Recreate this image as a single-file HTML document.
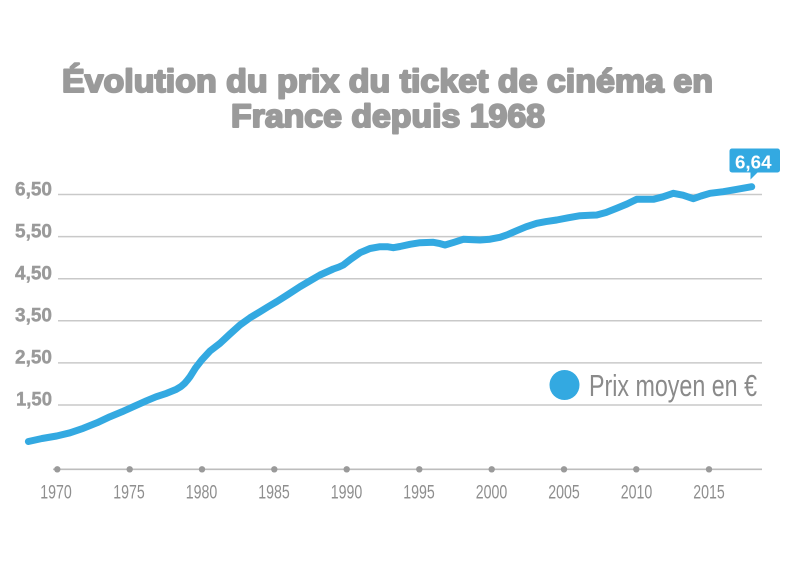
<!DOCTYPE html>
<html>
<head>
<meta charset="utf-8">
<style>
  html, body { margin: 0; padding: 0; background: #ffffff; }
  svg { display: block; }
</style>
</head>
<body>
<svg width="800" height="576" viewBox="0 0 800 576" xmlns="http://www.w3.org/2000/svg">
  <rect x="0" y="0" width="800" height="576" fill="#ffffff"/>

  <!-- Title -->
  <g font-family="'Liberation Sans', sans-serif" font-weight="bold" font-size="32" fill="#9a9a9a" stroke="#9a9a9a" stroke-width="2" stroke-linejoin="round">
    <text x="62" y="92" textLength="651" lengthAdjust="spacingAndGlyphs">Évolution du prix du ticket de cinéma en</text>
    <text x="231" y="127" textLength="314" lengthAdjust="spacingAndGlyphs">France depuis 1968</text>
  </g>

  <!-- Gridlines -->
  <g stroke="#c9c9c9" stroke-width="1.5">
    <line x1="58" y1="194.5" x2="762" y2="194.5"/>
    <line x1="58" y1="236.6" x2="762" y2="236.6"/>
    <line x1="58" y1="278.7" x2="762" y2="278.7"/>
    <line x1="58" y1="320.8" x2="762" y2="320.8"/>
    <line x1="58" y1="362.9" x2="762" y2="362.9"/>
    <line x1="58" y1="405" x2="762" y2="405"/>
  </g>

  <!-- Y labels -->
  <g font-family="'Liberation Sans', sans-serif" font-weight="bold" font-size="19" fill="#9a9a9a" stroke="#9a9a9a" stroke-width="0.4" text-anchor="end">
    <text x="52" y="195.5" textLength="37" lengthAdjust="spacingAndGlyphs">6,50</text>
    <text x="52" y="237.5" textLength="37" lengthAdjust="spacingAndGlyphs">5,50</text>
    <text x="52" y="279.5" textLength="37" lengthAdjust="spacingAndGlyphs">4,50</text>
    <text x="52" y="321.5" textLength="37" lengthAdjust="spacingAndGlyphs">3,50</text>
    <text x="52" y="363.5" textLength="37" lengthAdjust="spacingAndGlyphs">2,50</text>
    <text x="52" y="405.5" textLength="36" lengthAdjust="spacingAndGlyphs">1,50</text>
  </g>

  <!-- X axis -->
  <line x1="53" y1="469.3" x2="762" y2="469.3" stroke="#bdbdbd" stroke-width="1.6"/>
  <g fill="#9a9a9a">
    <circle cx="57.3" cy="469.3" r="3.2"/>
    <circle cx="129.7" cy="469.3" r="3.2"/>
    <circle cx="202" cy="469.3" r="3.2"/>
    <circle cx="274.3" cy="469.3" r="3.2"/>
    <circle cx="346.7" cy="469.3" r="3.2"/>
    <circle cx="419.3" cy="469.3" r="3.2"/>
    <circle cx="491.7" cy="469.3" r="3.2"/>
    <circle cx="564" cy="469.3" r="3.2"/>
    <circle cx="636.3" cy="469.3" r="3.2"/>
    <circle cx="709" cy="469.3" r="3.2"/>
  </g>
  <g font-family="'Liberation Sans', sans-serif" font-size="19" fill="#8f8f8f" text-anchor="middle">
    <text x="56" y="498.5" textLength="31.5" lengthAdjust="spacingAndGlyphs">1970</text>
    <text x="129" y="498.5" textLength="31.5" lengthAdjust="spacingAndGlyphs">1975</text>
    <text x="201.5" y="498.5" textLength="31.5" lengthAdjust="spacingAndGlyphs">1980</text>
    <text x="274" y="498.5" textLength="31.5" lengthAdjust="spacingAndGlyphs">1985</text>
    <text x="346.5" y="498.5" textLength="31.5" lengthAdjust="spacingAndGlyphs">1990</text>
    <text x="419" y="498.5" textLength="31.5" lengthAdjust="spacingAndGlyphs">1995</text>
    <text x="491.5" y="498.5" textLength="31.5" lengthAdjust="spacingAndGlyphs">2000</text>
    <text x="564" y="498.5" textLength="31.5" lengthAdjust="spacingAndGlyphs">2005</text>
    <text x="636.5" y="498.5" textLength="31.5" lengthAdjust="spacingAndGlyphs">2010</text>
    <text x="709" y="498.5" textLength="31.5" lengthAdjust="spacingAndGlyphs">2015</text>
  </g>

  <!-- Series line -->
  <polyline fill="none" stroke="#33a9e1" stroke-width="7" stroke-linecap="round" stroke-linejoin="round"
    points="28.4,441.5 42,438.5 56.7,436 70,432.8 83.3,428.3 97,422.8 110,416.7 122,411.8 133.3,406.7 146.7,400.7 156,396.8 166.7,393.3 176,389.5 181,386.5 184.5,383.5 187.5,380 190,376.7 195.5,368 201.7,360 210,351 220,343.3 230,334 240,325 250,317.8 260,311.7 268,306.8 276.7,301.7 288,294.5 300,286.7 310,280.8 320,275 333.3,269 339,267 343.3,265 351,259 360,252.7 370,248.5 380,246.7 388,246.8 393.3,247.7 400,246.5 410,244.3 420,242.7 433.3,242.3 440,243.6 445,245 454,242.3 463.3,239.3 471,239.6 480,240 490,239.2 500,237.3 508,234.5 516.7,230.7 526,226.8 536.7,223.3 546,221.6 556.7,220 568,217.8 580,215.7 590,215.2 596.7,215 606,212.5 616.7,208.3 627,204 636.7,199.3 645,199.3 653.3,199.3 663,196.8 673.3,193.3 683,195.2 693.3,198.7 701,196 710,193.3 723.3,191.7 737,189.3 751.7,186.7"/>

  <!-- Value label -->
  <rect x="729.5" y="148.5" width="50.5" height="24" rx="2.5" ry="2.5" fill="#33a9e1"/>
  <polygon points="750.5,171.5 750.5,179.5 758.5,171.5" fill="#33a9e1"/>
  <text x="735" y="168.3" font-family="'Liberation Sans', sans-serif" font-weight="bold" font-size="18.5" fill="#ffffff" textLength="36.5" lengthAdjust="spacingAndGlyphs">6,64</text>

  <!-- Legend -->
  <circle cx="564.5" cy="385" r="15" fill="#33a9e1"/>
  <text x="589" y="396" font-family="'Liberation Sans', sans-serif" font-size="31" fill="#8a8a8a" textLength="168" lengthAdjust="spacingAndGlyphs">Prix moyen en €</text>
</svg>
</body>
</html>
